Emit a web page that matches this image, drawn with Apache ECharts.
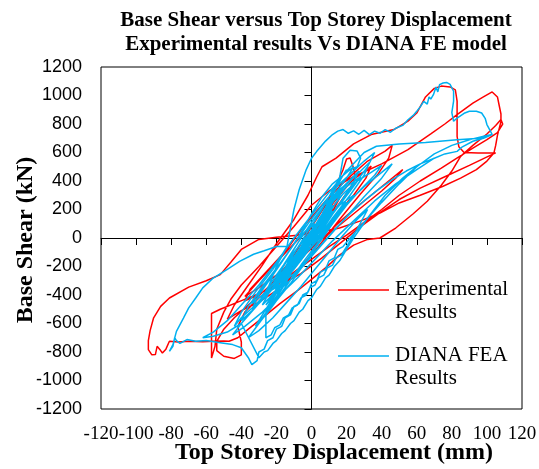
<!DOCTYPE html>
<html>
<head>
<meta charset="utf-8">
<script src="https://cdn.jsdelivr.net/npm/echarts@6/dist/echarts.min.js"></script>
<style>
  html, body { margin: 0; padding: 0; background: #fff; }
  #chart { width: 539px; height: 469px; }
</style>
</head>
<body>
<div id="chart"></div>
<script>
// axis ranges / ticks
const xTicks = { min: -120, max: 120, step: 20 }
const yTicks = { min: -1200, max: 1200, step: 200 }
const xLabelValues = [-120, -100, -80, -60, -40, -20, 0, 20, 40, 60, 80, 100, 120]

const experimental = [
  [0, 0], [4, 60], [8, 130], [12, 210], [9, 150], [3, 40], [-3, -50], [-8, -140], [-12, -210], [-9, -150], [-2, -20],
  [5, 100], [11, 200], [16, 280], [13, 210], [6, 90], [-2, -60], [-10, -190], [-16, -280], [-13, -210], [-5, -80],
  [4, 90], [12, 240], [20, 360], [26, 440], [22, 350], [14, 210], [4, 40], [-8, -150], [-18, -290], [-26, -390], [-22, -310], [-12, -160],
  [-2, 40], [8, 230], [14, 370], [18, 480], [20, 555], [22, 562], [24, 490], [25, 420], [30, 465], [34, 505], [31, 420], [24, 300], [14, 160],
  [2, -30], [-10, -210], [-22, -340], [-32, -410], [-38, -440], [-35, -360], [-26, -240], [-14, -80],
  [-4, 90], [8, 260], [20, 410], [32, 540], [42, 610], [46, 650], [44, 560], [38, 450], [28, 310], [16, 130], [4, -60], [-8, -230],
  [-20, -370], [-30, -450], [-40, -510], [-48, -570], [-44, -470], [-36, -330], [-28, -190], [-20, -40], [-10, 130], [-2, 300], [3, 430], [6, 500],
  [14, 560], [24, 660], [34, 726], [47, 761], [55, 820], [60, 877], [65, 990], [70, 1050], [74, 1066], [79, 1060], [82, 1040], [83, 960],
  [83, 860], [83, 714], [84, 640], [87, 600], [95, 597], [105, 597], [101, 575], [90, 510], [76, 430], [62, 350], [50, 270], [38, 170],
  [28, 80], [18, -20], [6, -140], [-6, -250], [-18, -330], [-30, -390], [-42, -450], [-52, -500], [-57, -530], [-57, -700], [-57, -842],
  [-55, -760], [-54, -640], [-50, -520], [-46, -430], [-40, -330], [-30, -200], [-20, -60], [-10, 80], [0, 230],
  [10, 330], [24, 430], [40, 520], [55, 620], [68, 730], [76, 800], [83, 866], [92, 947], [98, 990], [103, 1025], [106, 990], [107, 930],
  [108, 870], [108, 817], [106, 720], [105, 650], [104, 597], [100, 540], [94, 480], [85, 420], [75, 363], [62, 300], [50, 246], [39, 175],
  [28, 120], [16, 70], [4, 40], [-8, 20], [-20, 5], [-30, -10], [-40, -80], [-46, -170], [-52, -257], [-60, -300], [-70, -345], [-81, -421],
  [-86, -480], [-90, -560], [-92, -650], [-93, -720], [-93, -783], [-91, -820], [-89, -818], [-88, -760], [-87, -748], [-86, -790], [-85, -807],
  [-83, -780], [-81, -725], [-76, -730], [-70, -725], [-62, -728], [-56, -725], [-50, -722], [-47, -725], [-42, -700], [-36, -640], [-28, -560],
  [-18, -460], [-8, -370], [0, -290], [8, -210], [16, -120], [24, -50], [32, -10], [39, 0], [48, 70], [58, 170], [66, 258], [74, 370],
  [80, 470], [85, 573], [92, 650], [100, 730], [105, 790], [108, 831], [109, 800], [106, 740], [100, 690], [92, 630], [84, 570], [74, 490],
  [62, 400], [50, 300], [40, 200], [30, 110], [20, 20], [10, -60], [0, -150], [-10, -240], [-20, -330], [-30, -420], [-38, -520], [-42, -620],
  [-40, -730], [-40, -820], [-44, -845], [-50, -830], [-54, -790], [-54, -725], [-50, -640], [-44, -560], [-36, -470], [-26, -360], [-16, -250],
  [-6, -140], [4, -30], [14, 90], [24, 200], [34, 300], [44, 400], [52, 480], [48, 420], [40, 330], [30, 230], [20, 130], [10, 30], [0, -60],
  [-10, -160], [-20, -260], [-30, -350], [-38, -410], [-30, -300], [-20, -170], [-10, -40], [0, 80]
]

// DIANA FEA results: [top storey displacement (mm), base shear (kN)]
const diana = [
  [0, 0], [3, 50], [6, 110], [9, 170], [7, 120], [3, 40], [-2, -40], [-6, -110], [-9, -170], [-7, -110], [-2, -20],
  [4, 90], [8, 160], [12, 230], [10, 170], [5, 70], [0, -30], [-6, -140], [-11, -220], [-14, -270], [-11, -190], [-5, -80], [1, 40],
  [6, 140], [11, 230], [15, 300], [18, 350], [15, 270], [9, 150], [2, 10], [-6, -130], [-13, -260], [-18, -340], [-21, -380], [-18, -300], [-11, -170], [-3, -20],
  [5, 150], [12, 270], [18, 360], [23, 420], [27, 470], [24, 390], [17, 260], [9, 110], [0, -60], [-10, -220], [-18, -330], [-24, -420], [-28, -470], [-24, -380], [-16, -240], [-6, -60],
  [4, 120], [14, 300], [22, 400], [28, 470], [33, 530], [30, 440], [22, 300], [12, 140], [2, -30], [-10, -200], [-20, -330], [-28, -430], [-34, -500], [-30, -400], [-22, -260], [-12, -80],
  [-2, 100], [8, 260], [16, 380], [24, 470], [30, 540], [36, 600], [32, 500], [24, 370], [14, 210], [4, 40], [-8, -150], [-18, -300], [-26, -410], [-34, -510], [-40, -580], [-36, -480], [-28, -340], [-18, -180], [-8, -10],
  [2, 120], [10, 290], [16, 420], [18, 560], [22, 615], [26, 610], [28, 560], [26, 500], [20, 470], [14, 380], [6, 200], [-4, 10], [-14, -190], [-24, -360], [-32, -470], [-40, -560], [-44, -620], [-40, -520], [-32, -380], [-22, -220], [-14, -60],
  [-10, 200], [-7, 340], [-3, 480], [0, 560], [3, 608], [8, 680], [12, 726], [15, 750], [18, 761], [21, 735], [24, 752], [27, 728], [30, 755], [33, 726],
  [36, 750], [39, 735], [42, 760], [45, 742], [48, 770], [52, 790], [55, 830], [58, 860], [60, 889], [62, 920], [64, 959], [66, 940], [67, 990], [68, 975],
  [69.5, 1006], [71, 1060], [72, 1025], [73, 1076], [75, 1088], [77, 1092], [79, 1078], [81, 1030], [81, 960], [80, 880], [81, 819], [83, 842], [87, 875],
  [90, 889], [94, 890], [97, 877], [99, 840], [100, 796], [102, 750], [103, 726], [98, 700], [92, 679], [86, 640], [83, 608], [76, 590], [70, 560],
  [62, 520], [54, 470], [46, 410], [38, 340], [30, 260], [22, 170], [14, 70], [6, -40], [-2, -150], [-10, -250], [-18, -330], [-26, -390], [-20, -200],
  [-14, -60], [-20, -60], [-27, -90], [-33, -114], [-41, -164], [-48, -220], [-56, -281], [-62, -350], [-66, -421], [-70, -490], [-73, -562], [-77, -655],
  [-79, -748], [-81, -795], [-79, -760], [-78, -700], [-77, -720], [-75, -740], [-71, -713], [-66, -725], [-60, -720], [-52, -735], [-45, -748], [-40, -770],
  [-36, -840], [-34, -888], [-31, -860], [-30, -800], [-27, -780], [-25, -720], [-22, -700], [-20, -640], [-17, -620], [-15, -560], [-12, -540], [-10, -480],
  [-7, -460], [-5, -400], [-2, -380], [0, -320], [3, -300], [5, -240], [8, -220], [10, -160], [13, -140], [15, -80], [18, -60], [22, 0], [30, 110],
  [40, 250], [50, 380], [60, 500], [70, 590], [80, 650], [90, 690], [100, 720], [103, 726], [96, 700], [83, 690], [65, 670], [50, 660], [37, 644],
  [30, 600], [20, 470], [10, 320], [0, 160], [-10, 0], [-20, -170], [-30, -330], [-40, -470], [-48, -580], [-56, -660], [-62, -700], [-56, -690],
  [-48, -660], [-40, -600], [-30, -840], [-27, -800], [-25, -790], [-22, -740], [-20, -720], [-17, -670], [-15, -650], [-12, -600], [-10, -580],
  [-7, -520], [-5, -500], [-2, -440], [0, -420], [3, -360], [5, -340], [8, -280], [10, -260], [13, -200], [16, -160], [20, -80], [24, 0], [32, 140],
  [42, 300], [52, 420], [62, 520], [70, 560], [60, 480], [48, 380], [36, 260], [24, 120], [12, -20], [2, -150], [-8, -280], [-18, -400], [-28, -520],
  [-38, -620], [-45, -680], [-40, -600], [-30, -460], [-20, -320], [-10, -180], [0, -40], [10, 100], [20, 240], [30, 360], [40, 460], [46, 520],
  [40, 420], [30, 290], [20, 150], [10, 10], [0, -130], [-10, -270], [-20, -390], [-26, -470], [-20, -360], [-10, -210], [0, -60], [8, 60],
  [14, 170], [20, 250], [14, 150], [6, 20], [-4, -120], [-14, -260], [-22, -360], [-16, -250], [-6, -100], [4, 60], [12, 190], [6, 90], [0, 0],
  [5, 120], [3, 90], [8, 200], [6, 170], [11, 280], [9, 240], [14, 350], [12, 300], [17, 420], [15, 380], [20, 480], [16, 400], [10, 260],
  [4, 120], [-2, -20], [-8, -160], [-14, -300], [-20, -420], [-26, -520], [-22, -430], [-16, -300], [-10, -160], [-4, -30], [2, 100], [-4, 40],
  [-10, -80], [-16, -200], [-22, -320], [-28, -400], [-34, -460], [-30, -380], [-24, -290], [-18, -180], [-12, -80], [-6, 40], [0, 170],
  [6, 290], [12, 380], [18, 440], [24, 500], [20, 420], [14, 320], [8, 200], [2, 80], [-4, -60], [-10, -200], [-16, -330], [-22, -450],
  [-28, -560], [-32, -620], [-28, -540], [-22, -420], [-14, -270], [-6, -120], [2, 30], [10, 180], [18, 310], [26, 400], [34, 460], [40, 510],
  [36, 440], [28, 340], [20, 230], [12, 100], [4, -40], [-4, -180], [-12, -320], [-20, -440], [-26, -540], [-26, -700], [-23, -680], [-21, -630],
  [-18, -610], [-16, -560], [-13, -540], [-11, -490], [-8, -470], [-6, -420], [-3, -400], [-1, -350], [2, -330], [4, -280], [7, -260], [9, -210],
  [12, -190], [14, -140], [17, -120], [20, -60], [26, 60], [32, 200], [26, 130], [18, 20], [10, -100], [2, -220], [-6, -340], [-14, -450],
  [-22, -560], [-30, -650], [-36, -700], [-30, -600], [-22, -470], [-14, -330], [-6, -190], [2, -60], [10, 70], [18, 200], [24, 300],
  [16, 230], [8, 120], [0, 0], [-8, -120], [-16, -240], [-12, -130], [-4, -10], [4, 120], [12, 250], [20, 360], [28, 430], [22, 330],
  [14, 200], [6, 70], [-2, -70], [-10, -210], [-18, -350], [-24, -450], [-18, -330], [-10, -170], [-2, -10], [6, 160], [14, 300], [8, 170],
  [0, 40], [-8, -100], [-16, -230], [-24, -350], [-30, -450], [-24, -330], [-16, -190], [-8, -40], [0, 110], [8, 240], [16, 340], [22, 400]
]

const chart = echarts.init(document.getElementById('chart'), null, { renderer: 'canvas' })

const serif = 'Liberation Serif'
const plotBox = { left: 101, right: 17, top: 67, bottom: 60 }

const textStyleOf = (text, font, align, vAlign, extra) => Object.assign({
  text: text,
  font: font,
  fill: '#000',
  align: align,
  verticalAlign: vAlign,
  textAlign: align,
  textVerticalAlign: vAlign
}, extra || {})

const baseGraphics = [
  {
    type: 'text',
    x: 334,
    y: 453,
    style: textStyleOf('Top Storey Displacement (mm)', 'bold 24px "Liberation Serif"', 'center', 'middle')
  },
  {
    type: 'text',
    x: 26,
    y: 240,
    rotation: Math.PI / 2,
    style: textStyleOf('Base Shear (kN)', 'bold 24px "Liberation Serif"', 'center', 'middle')
  },
  {
    type: 'line',
    shape: { x1: 338, y1: 290, x2: 389, y2: 290 },
    style: { stroke: '#FF0000', lineWidth: 1.5 }
  },
  {
    type: 'text',
    x: 395,
    y: 278,
    style: textStyleOf('Experimental\nResults', '21px "Liberation Serif"', 'left', 'top', { lineHeight: 23 })
  },
  {
    type: 'line',
    shape: { x1: 338, y1: 356, x2: 389, y2: 356 },
    style: { stroke: '#00B0F0', lineWidth: 1.5 }
  },
  {
    type: 'text',
    x: 395,
    y: 344,
    style: textStyleOf('DIANA FEA\nResults', '21px "Liberation Serif"', 'left', 'top', { lineHeight: 23 })
  }
]

chart.setOption({
  animation: false,
  backgroundColor: '#fff',
  title: {
    text: 'Base Shear versus Top Storey Displacement\nExperimental results Vs DIANA FE model',
    left: 311,
    top: 4,
    textAlign: 'center',
    textStyle: {
      fontFamily: serif,
      fontWeight: 'bold',
      fontSize: 21,
      lineHeight: 24,
      color: '#000'
    }
  },
  // grid 0 carries the frame and the y tick labels, grid 1 the zero-crossing axes
  grid: [
    Object.assign({ containLabel: false, outerBoundsMode: 'none', show: true, borderColor: '#000', borderWidth: 1, backgroundColor: '#fff' }, plotBox),
    Object.assign({ containLabel: false, outerBoundsMode: 'none', show: false }, plotBox)
  ],
  xAxis: [
    {
      gridIndex: 0,
      type: 'value',
      min: xTicks.min,
      max: xTicks.max,
      interval: xTicks.step,
      position: 'bottom',
      axisLine: { show: false, onZero: false },
      axisTick: { show: false },
      axisLabel: { show: false },
      splitLine: { show: false }
    },
    {
      gridIndex: 1,
      type: 'value',
      min: xTicks.min,
      max: xTicks.max,
      interval: xTicks.step,
      axisLine: { onZero: true, lineStyle: { color: '#000', width: 1 } },
      axisTick: { show: true, length: 7, lineStyle: { color: '#000' } },
      axisLabel: { show: false },
      splitLine: { show: false }
    }
  ],
  yAxis: [
    {
      gridIndex: 0,
      type: 'value',
      min: yTicks.min,
      max: yTicks.max,
      interval: yTicks.step,
      position: 'left',
      axisLine: { show: false, onZero: false },
      axisTick: { show: false },
      axisLabel: {
        margin: 19,
        color: '#000',
        fontFamily: 'Liberation Sans',
        fontSize: 18,
        showMinLabel: true,
        showMaxLabel: true,
        hideOverlap: false,
        formatter: v => String(v)
      },
      splitLine: { show: false }
    },
    {
      gridIndex: 1,
      type: 'value',
      min: yTicks.min,
      max: yTicks.max,
      interval: yTicks.step,
      axisLine: { onZero: true, lineStyle: { color: '#000', width: 1 } },
      axisTick: { show: true, length: 7, lineStyle: { color: '#000' } },
      axisLabel: { show: false },
      splitLine: { show: false }
    }
  ],
  graphic: baseGraphics,
  series: [
    {
      name: 'Experimental Results',
      type: 'line',
      xAxisIndex: 0,
      yAxisIndex: 0,
      data: experimental,
      showSymbol: false,
      symbol: 'none',
      lineStyle: { color: '#FF0000', width: 1.5 },
      itemStyle: { color: '#FF0000' }
    },
    {
      name: 'DIANA FEA Results',
      type: 'line',
      xAxisIndex: 0,
      yAxisIndex: 0,
      data: diana,
      showSymbol: false,
      symbol: 'none',
      lineStyle: { color: '#00B0F0', width: 1.5 },
      itemStyle: { color: '#00B0F0' }
    }
  ]
})

// x tick labels placed under the frame at the axis' own pixel positions
const frameBottom = chart.convertToPixel({ yAxisIndex: 0 }, yTicks.min)
const xLabelGraphics = xLabelValues.map(v => ({
  type: 'text',
  x: chart.convertToPixel({ xAxisIndex: 0 }, v),
  y: frameBottom + 16,
  style: textStyleOf(String(v), '19px "Liberation Serif"', 'center', 'top')
}))
chart.setOption({ graphic: baseGraphics.concat(xLabelGraphics) })
</script>
</body>
</html>
